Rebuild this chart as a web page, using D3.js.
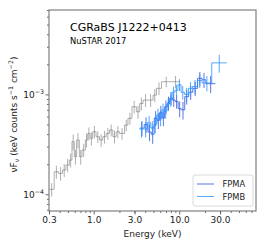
<!DOCTYPE html>
<html>
<head>
<meta charset="utf-8">
<script src="https://cdn.jsdelivr.net/npm/d3@7"></script>
<style>
  body { margin: 0; background: #fff; }
  svg { font-family: "DejaVu Sans", sans-serif; }
</style>
</head>
<body>
<div id="chart"></div>
<script>
// grey soft X-ray spectrum: bin edges (keV), flux, 1-sigma error
const xrtEdges = [0.301, 0.345, 0.388, 0.432, 0.473, 0.518, 0.557, 0.593, 0.631, 0.679, 0.730,
  0.798, 0.851, 0.906, 0.974, 1.066, 1.167, 1.277, 1.398, 1.530, 1.674, 1.832, 2.006, 2.295,
  2.513, 2.800, 3.150, 3.448, 3.775, 4.321, 4.947, 5.415, 6.204, 8.0, 10.2];
const xrtF = [1.12e-4, 1.68e-4, 1.62e-4, 1.75e-4, 1.96e-4, 2.2e-4, 3.36e-4, 2.38e-4, 3.49e-4,
  2.38e-4, 2.77e-4, 3.49e-4, 4.07e-4, 3.63e-4, 4.23e-4, 3.77e-4, 3.49e-4, 3.77e-4, 4.07e-4,
  4.4e-4, 3.77e-4, 4.23e-4, 4.07e-4, 4.93e-4, 5.75e-4, 7.52e-4, 6.7e-4, 8.1e-4, 8.77e-4,
  8.77e-4, 9.84e-4, 1.15e-3, 1.34e-3, 1.34e-3];
const xrtErr = [0.17e-4, 0.25e-4, 0.25e-4, 0.26e-4, 0.3e-4, 0.35e-4, 0.6e-4, 0.4e-4, 0.6e-4,
  0.4e-4, 0.42e-4, 0.55e-4, 0.6e-4, 0.55e-4, 0.6e-4, 0.5e-4, 0.5e-4, 0.55e-4, 0.55e-4,
  0.6e-4, 0.55e-4, 0.6e-4, 0.55e-4, 0.65e-4, 0.8e-4, 1.1e-4, 1.0e-4, 1.2e-4, 1.3e-4,
  1.3e-4, 1.5e-4, 1.7e-4, 1.6e-4, 1.9e-4];

// NuSTAR FPMA
const fpmaEdges = [3.45, 3.9, 4.3, 4.7, 5.1, 5.5, 5.9, 6.3, 6.75, 7.25, 7.75, 8.3, 8.95, 9.7,
  10.55, 11.6, 12.9, 14.4, 16.4, 18.5, 20.5, 26.5];
const fpmaF = [4.6e-4, 5.0e-4, 4.2e-4, 4.0e-4, 5.8e-4, 5.5e-4, 6.6e-4, 5.8e-4, 7.5e-4, 8.2e-4,
  9.2e-4, 8.8e-4, 8.5e-4, 7.2e-4, 7.0e-4, 9.5e-4, 1.05e-3, 1.15e-3, 1.45e-3, 1.4e-3, 1.28e-3];
const fpmaErr = [0.8e-4, 0.9e-4, 0.8e-4, 0.8e-4, 1.0e-4, 1.0e-4, 1.1e-4, 1.0e-4, 1.2e-4, 1.3e-4,
  1.4e-4, 1.3e-4, 1.3e-4, 1.3e-4, 1.4e-4, 1.6e-4, 1.7e-4, 1.9e-4, 2.3e-4, 2.4e-4, 2.5e-4];

// NuSTAR FPMB
const fpmbEdges = [3.4, 3.85, 4.25, 4.65, 5.05, 5.45, 5.85, 6.25, 6.7, 7.2, 7.7, 8.25, 8.9,
  9.65, 10.5, 11.5, 12.8, 14.3, 16.3, 18.5, 24, 36];
const fpmbF = [4.5e-4, 4.5e-4, 5.2e-4, 4.6e-4, 5.0e-4, 6.2e-4, 5.8e-4, 7.0e-4, 6.8e-4, 8.0e-4,
  8.8e-4, 1.05e-3, 1.1e-3, 1.25e-3, 1.05e-3, 1.0e-3, 1.15e-3, 1.2e-3, 1.38e-3, 1.3e-3, 2.07e-3];
const fpmbErr = [0.8e-4, 0.8e-4, 0.9e-4, 0.8e-4, 0.9e-4, 1.0e-4, 1.0e-4, 1.1e-4, 1.1e-4, 1.2e-4,
  1.3e-4, 1.5e-4, 1.5e-4, 1.7e-4, 1.6e-4, 1.6e-4, 1.8e-4, 1.9e-4, 2.2e-4, 2.3e-4, 4.2e-4];

const xTicks = [0.3, 1, 3, 10, 30];
const yTicks = [1e-4, 1e-3];

const W = 266, H = 245;
const m = {left: 49, right: 10, top: 10, bottom: 34};

const svg = d3.select('#chart').append('svg')
  .attr('width', W).attr('height', H);

const x = d3.scaleLog().domain([0.3, 79]).range([m.left, W - m.right]);
const y = d3.scaleLog().domain([6.8e-5, 7e-3]).range([H - m.bottom, m.top]);

const plot = svg.append('g');
plot.append('clipPath').attr('id', 'clip').append('rect')
  .attr('x', m.left).attr('y', m.top)
  .attr('width', W - m.left - m.right).attr('height', H - m.top - m.bottom);

function drawSpectrum(edges, flux, err, color, opacity) {
  const g = plot.append('g').attr('clip-path', 'url(#clip)')
    .attr('stroke', color).attr('stroke-opacity', opacity)
    .attr('fill', 'none').attr('stroke-width', 1);
  const pts = flux.map((f, i) => [edges[i], f]);
  pts.push([edges[edges.length - 1], flux[flux.length - 1]]);
  const line = d3.line().x(d => x(d[0])).y(d => y(d[1])).curve(d3.curveStepAfter);
  g.append('path').attr('d', line(pts));
  // vertical error bars at bin centres
  g.selectAll('line.err').data(flux).join('line')
    .attr('class', 'err')
    .attr('x1', (d, i) => x(Math.sqrt(edges[i] * edges[i + 1])))
    .attr('x2', (d, i) => x(Math.sqrt(edges[i] * edges[i + 1])))
    .attr('y1', (d, i) => y(d - err[i]))
    .attr('y2', (d, i) => y(d + err[i]));
}

drawSpectrum(xrtEdges, xrtF, xrtErr, '#7a7a7a', 0.6);
drawSpectrum(fpmaEdges, fpmaF, fpmaErr, '#3a5fe0', 0.85);
drawSpectrum(fpmbEdges, fpmbF, fpmbErr, '#2b94ff', 0.8);

// axes
const xMinor = [];
[0.1, 1, 10].forEach(dec => { for (let k = 2; k <= 9; k++) xMinor.push(k * dec); });
const yMinor = [];
[1e-5, 1e-4, 1e-3].forEach(dec => { for (let k = 2; k <= 9; k++) yMinor.push(k * dec); });

const xa = svg.append('g').attr('transform', `translate(0,${H - m.bottom})`);
xa.call(d3.axisBottom(x).tickValues(xMinor.filter(v => v >= 0.3 && v <= 79))
  .tickSize(2).tickFormat(''));
xa.call(g => g.selectAll('.domain').remove());
const xaM = svg.append('g').attr('transform', `translate(0,${H - m.bottom})`);
xaM.call(d3.axisBottom(x).tickValues(xTicks).tickSize(3.5).tickPadding(2)
  .tickFormat(d3.format('.1f')));
xaM.select('.domain').remove();
xaM.selectAll('text').attr('font-size', 9).attr('fill', '#222')
  .attr('font-family', '"DejaVu Sans", sans-serif');

const ya = svg.append('g').attr('transform', `translate(${m.left},0)`);
ya.call(d3.axisLeft(y).tickValues(yMinor.filter(v => v >= 6.8e-5 && v <= 7e-3))
  .tickSize(2).tickFormat(''));
ya.select('.domain').remove();
const yaM = svg.append('g').attr('transform', `translate(${m.left},0)`);
yaM.call(d3.axisLeft(y).tickValues(yTicks).tickSize(3.5).tickFormat(''));
yaM.select('.domain').remove();
yaM.selectAll('.tick').each(function(d) {
  const t = d3.select(this).append('text')
    .attr('x', -5).attr('dy', '0.32em')
    .attr('text-anchor', 'end').attr('fill', '#222').attr('font-size', 9)
    .attr('font-family', '"DejaVu Sans", sans-serif');
  t.append('tspan').text('10');
  t.append('tspan').attr('dy', -4).attr('font-size', 6.3)
    .text('\u2212' + Math.round(-Math.log10(d)));
});
svg.selectAll('.tick line').attr('stroke', '#444').attr('stroke-width', 0.8);

// frame
svg.append('rect')
  .attr('x', m.left).attr('y', m.top)
  .attr('width', W - m.left - m.right).attr('height', H - m.top - m.bottom)
  .attr('fill', 'none').attr('stroke', '#808080').attr('stroke-width', 1.2);

// titles
svg.append('text').attr('x', 70).attr('y', 31)
  .attr('font-size', 11).attr('fill', '#000').text('CGRaBS J1222+0413');
svg.append('text').attr('x', 70).attr('y', 44)
  .attr('font-size', 8.3).attr('fill', '#000').text('NuSTAR 2017');

// axis labels
svg.append('text').attr('x', (m.left + W - m.right) / 2).attr('y', 237)
  .attr('text-anchor', 'middle').attr('font-size', 9).attr('fill', '#222')
  .text('Energy (keV)');

const yl = svg.append('text')
  .attr('transform', `translate(17,${(m.top + H - m.bottom) / 2 + 4}) rotate(-90)`)
  .attr('text-anchor', 'middle').attr('font-size', 9).attr('fill', '#222');
yl.append('tspan').text('\u03bdF');
yl.append('tspan').attr('dy', 2).attr('font-size', 6.3).text('\u03bd');
yl.append('tspan').attr('dy', -2).text(' (keV counts s');
yl.append('tspan').attr('dy', -4).attr('font-size', 6.3).text('\u22121');
yl.append('tspan').attr('dy', 4).text(' cm');
yl.append('tspan').attr('dy', -4).attr('font-size', 6.3).text('\u22122');
yl.append('tspan').attr('dy', 4).text(')');

// legend
const legendItems = [
  {label: 'FPMA', color: '#3a5fe0', opacity: 0.85},
  {label: 'FPMB', color: '#2b94ff', opacity: 0.8}
];
const lg = svg.append('g').attr('transform', 'translate(193,175)');
lg.append('rect').attr('width', 60).attr('height', 31).attr('rx', 2)
  .attr('fill', '#fff').attr('fill-opacity', 0.8)
  .attr('stroke', '#d0d0d0').attr('stroke-width', 0.8);
legendItems.forEach((d, i) => {
  const yy = 9 + i * 12.5;
  lg.append('line').attr('x1', 4).attr('x2', 21).attr('y1', yy).attr('y2', yy)
    .attr('stroke', d.color).attr('stroke-opacity', d.opacity).attr('stroke-width', 1);
  lg.append('text').attr('x', 29.5).attr('y', yy + 3.2)
    .attr('font-size', 8.3).attr('fill', '#222').text(d.label);
});
</script>
</body>
</html>
